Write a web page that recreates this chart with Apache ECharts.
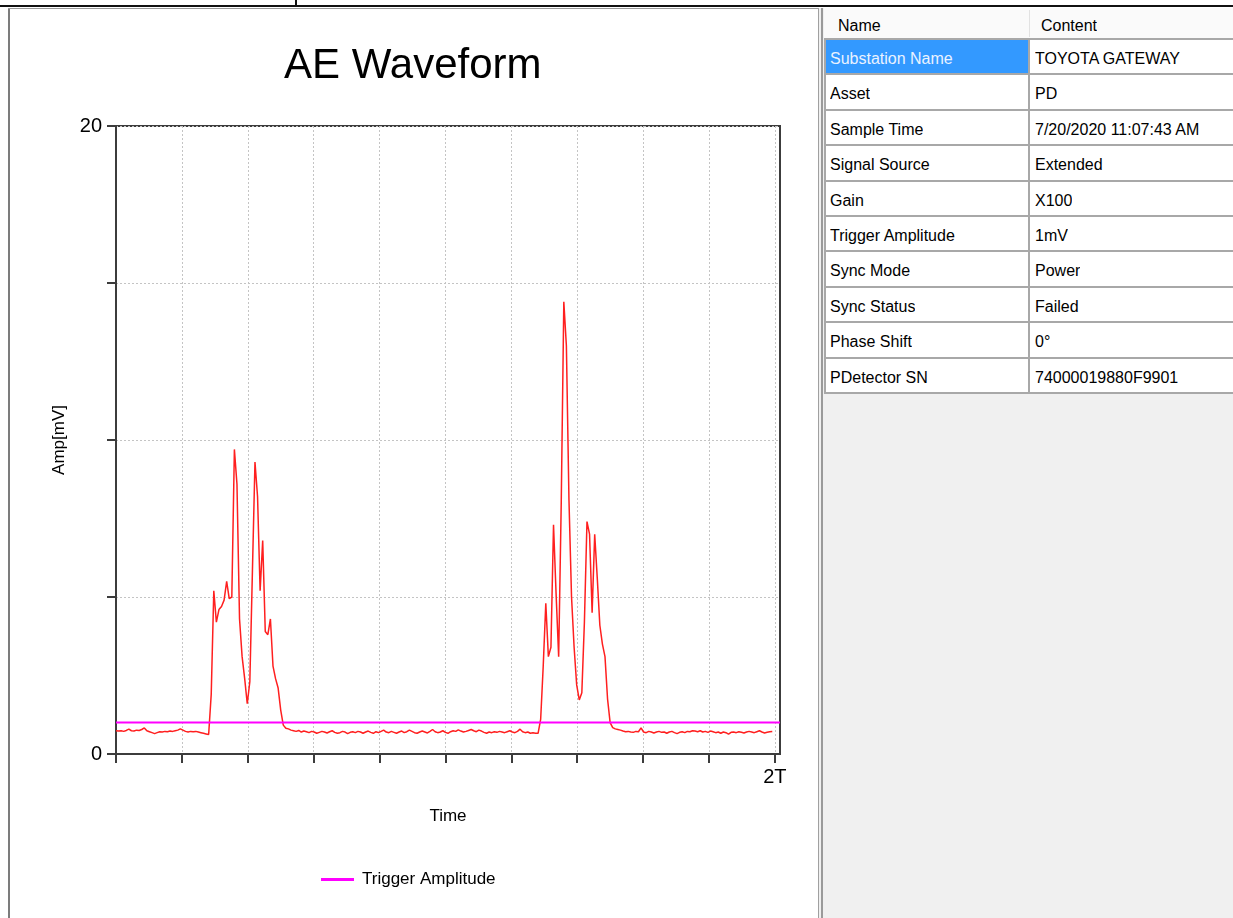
<!DOCTYPE html>
<html><head><meta charset="utf-8">
<script src="https://cdn.jsdelivr.net/npm/echarts@6/dist/echarts.min.js"></script>
<style>
html,body{margin:0;padding:0;width:1233px;height:918px;overflow:hidden;background:#fff;font-family:"Liberation Sans",Arial,sans-serif;}
.abs{position:absolute;}
#chart{position:absolute;left:0;top:0;width:818px;height:918px;}
#side{position:absolute;left:818px;top:8px;width:415px;height:910px;background:#f0f0f0;}
.cell{position:absolute;box-sizing:border-box;font-size:16px;color:#000;white-space:nowrap;overflow:hidden;display:flex;align-items:center;padding-top:4px;}
</style></head><body>
<div class="abs" style="left:0;top:5px;width:1233px;height:2px;background:#111"></div>
<div class="abs" style="left:295px;top:0;width:2px;height:6px;background:#111"></div>
<div class="abs" style="left:8px;top:8px;width:2px;height:910px;background:#7c7c7c"></div>
<div class="abs" style="left:8px;top:8px;width:812px;height:1px;background:#9a9a9a"></div>
<div id="chart"></div>
<div id="side"></div>
<script>
// ---- data ----
const chartTitle = 'AE Waveform';
const seriesNames = ['AE Signal', 'Trigger Amplitude'];
// 256 samples over two power cycles (2T), amplitude in mV
const ampValues = [
0.74,0.73,0.74,0.72,0.75,0.79,0.74,0.73,0.76,0.75,0.78,0.83,0.74,0.71,0.68,0.65,
0.68,0.71,0.70,0.72,0.71,0.73,0.72,0.74,0.76,0.80,0.76,0.72,0.70,0.72,0.71,0.72,
0.70,0.68,0.66,0.64,0.62,1.9,5.2,4.2,4.6,4.7,4.9,5.5,4.95,5.0,9.7,8.6,
4.3,3.1,2.4,1.6,2.3,5.8,9.3,8.2,5.2,6.8,3.9,3.8,4.3,2.8,2.4,2.1,
1.4,0.92,0.82,0.80,0.76,0.74,0.72,0.75,0.70,0.73,0.71,0.68,0.72,0.70,0.66,0.69,
0.72,0.70,0.67,0.71,0.74,0.69,0.66,0.68,0.72,0.70,0.65,0.69,0.71,0.68,0.72,0.70,
0.66,0.70,0.73,0.69,0.66,0.71,0.68,0.72,0.76,0.70,0.68,0.72,0.69,0.66,0.70,0.73,
0.68,0.71,0.76,0.72,0.68,0.66,0.70,0.73,0.70,0.67,0.72,0.78,0.71,0.68,0.70,0.74,
0.69,0.66,0.71,0.74,0.72,0.77,0.73,0.70,0.72,0.75,0.78,0.74,0.71,0.76,0.73,0.69,
0.66,0.70,0.68,0.71,0.69,0.72,0.70,0.68,0.71,0.74,0.70,0.68,0.72,0.79,0.71,0.68,
0.70,0.66,0.68,0.66,0.66,1.1,2.8,4.8,3.1,3.4,7.3,5.1,3.1,8.0,14.4,13.0,
8.1,5.0,3.4,2.2,1.72,1.95,4.2,7.4,7.0,4.5,7.0,5.6,4.1,3.5,3.1,1.75,
1.0,0.84,0.80,0.78,0.76,0.73,0.71,0.72,0.70,0.69,0.72,0.71,0.83,0.70,0.68,0.72,
0.70,0.67,0.70,0.72,0.69,0.70,0.66,0.70,0.72,0.68,0.65,0.69,0.71,0.68,0.72,0.71,
0.74,0.73,0.71,0.74,0.70,0.72,0.69,0.73,0.71,0.68,0.70,0.66,0.70,0.68,0.63,0.69,
0.70,0.68,0.71,0.69,0.67,0.70,0.72,0.70,0.68,0.71,0.74,0.70,0.67,0.69,0.71,0.72
];
const triggerX = [0, 258];
const triggerValues = [1, 1];
const xMin = 0, xMax = 258, xInterval = 25.6;
const xTickValues = [0, 25.6, 51.2, 76.8, 102.4, 128, 153.6, 179.2, 204.8, 230.4, 256];
const xLabelValues = [256];
const xLabelText = ['2T'];
const yMin = 0, yMax = 20, yInterval = 5;
const yLabelValues = [0, 20];
const xAxisName = 'Time';
const yAxisName = 'Amp[mV]';
const tableHeader = ['Name', 'Content'];
const tableNames = ['Substation Name','Asset','Sample Time','Signal Source','Gain','Trigger Amplitude','Sync Mode','Sync Status','Phase Shift','PDetector SN'];
const tableContents = ['TOYOTA GATEWAY','PD','7/20/2020 11:07:43 AM','Extended','X100','1mV','Power','Failed','0°','74000019880F9901'];

// ---- chart ----
const chart = echarts.init(document.getElementById('chart'), null, {renderer:'canvas'});
const axisColor = '#3c3c3c';
const gridColor = '#c4c4c4';
chart.setOption({
  animation: false,
  backgroundColor: 'transparent',
  textStyle: {fontFamily: 'Liberation Sans'},
  title: {text: chartTitle, left: 284, top: 45, padding: 0,
    textStyle: {fontSize: 42, fontWeight: 'normal', color: '#000', fontFamily: 'Liberation Sans'}},
  legend: {data: [{name: seriesNames[1], icon: 'rect'}], left: 321, top: 871, padding: 0,
    itemWidth: 33, itemHeight: 3, textStyle: {fontSize: 17, color: '#000', padding: [0,0,0,3]}},
  grid: {left: 116, top: 126, width: 664, height: 628, show: true, borderColor: axisColor, borderWidth: 2,
    containLabel: false, outerBoundsMode: 'none'},
  xAxis: {type: 'value', min: xMin, max: xMax, interval: xInterval,
    name: xAxisName, nameLocation: 'middle', nameGap: 54,
    nameTextStyle: {fontSize: 17, color: '#000'},
    axisLine: {show: true, onZero: false, lineStyle: {color: axisColor, width: 2}},
    axisTick: {show: true, length: 9, customValues: xTickValues, lineStyle: {color: axisColor, width: 2}},
    axisLabel: {customValues: xLabelValues, fontSize: 20, color: '#000', margin: 13,
      formatter: v => { const k = xLabelValues.indexOf(v); return k >= 0 ? xLabelText[k] : ''; }},
    splitLine: {show: true, lineStyle: {color: gridColor, width: 1, type: [2, 2]}}},
  yAxis: {type: 'value', min: yMin, max: yMax, interval: yInterval,
    name: yAxisName, nameLocation: 'middle', nameGap: 48,
    nameTextStyle: {fontSize: 17, color: '#000'},
    axisLine: {show: true, onZero: false, lineStyle: {color: axisColor, width: 2}},
    axisTick: {show: true, length: 9, lineStyle: {color: axisColor, width: 2}},
    axisLabel: {fontSize: 20, color: '#000', margin: 14,
      formatter: v => yLabelValues.includes(v) ? String(v) : ''},
    splitLine: {show: true, lineStyle: {color: gridColor, width: 1, type: [2, 2]}}},
  series: [
    {name: seriesNames[0], type: 'line', showSymbol: false, symbol: 'none',
      data: ampValues.map((v, i) => [i, v]),
      lineStyle: {color: '#ff1f1f', width: 1.5}, itemStyle: {color: '#ff1f1f'}},
    {name: seriesNames[1], type: 'line', showSymbol: false, symbol: 'none',
      data: triggerX.map((x, i) => [x, triggerValues[i]]),
      lineStyle: {color: '#ff00ff', width: 2}, itemStyle: {color: '#ff00ff'}}
  ]
});

// ---- side table ----
const side = document.getElementById('side');
function add(style, text, cls) {
  const d = document.createElement('div');
  d.className = cls || 'abs';
  Object.assign(d.style, style);
  if (text !== undefined) d.textContent = text;
  side.appendChild(d);
  return d;
}
// splitter lines (page x 818..822)
add({left:'0px', top:'0px', width:'1px', height:'910px', background:'#a0a0a0'});
add({left:'3px', top:'0px', width:'2px', height:'910px', background:'#9a9a9a'});
const tLeft = 6, col2 = 211, rowTop = 31, rowH = 35.4; // relative to side (page x 824, y 39)
// header
add({left: tLeft + 'px', top: '0px', width: (415 - tLeft) + 'px', height: rowTop + 'px', background: '#fafafa'});
add({left: (col2) + 'px', top: '2px', width: '1px', height: (rowTop - 4) + 'px', background: '#e2e2e2'});
add({left: (tLeft + 14) + 'px', top: '0px', height: rowTop + 'px'}, tableHeader[0], 'cell');
add({left: (col2 + 12) + 'px', top: '0px', height: rowTop + 'px'}, tableHeader[1], 'cell');
// body bg
const bodyH = Math.round(rowH * tableNames.length);
add({left: tLeft + 'px', top: rowTop + 'px', width: (415 - tLeft) + 'px', height: bodyH + 'px', background: '#fff'});
tableNames.forEach((name, k) => {
  const top = Math.round(rowTop + k * rowH);
  const bot = Math.round(rowTop + (k + 1) * rowH);
  if (k === 0) add({left: (tLeft + 1) + 'px', top: (top + 1) + 'px', width: (col2 - tLeft - 1) + 'px', height: (bot - top - 1) + 'px', background: '#3399ff'});
  const c1 = add({left: (tLeft + 6) + 'px', top: top + 'px', height: (bot - top) + 'px'}, name, 'cell');
  if (k === 0) c1.style.color = '#eaf2ff';
  add({left: (col2 + 6) + 'px', top: top + 'px', height: (bot - top) + 'px'}, tableContents[k], 'cell');
});
// grid lines
for (let k = 0; k <= tableNames.length; k++) {
  const y = Math.round(rowTop + k * rowH);
  add({left: tLeft + 'px', top: (y - 1) + 'px', width: (415 - tLeft) + 'px', height: '2px', background: '#a8a8a8'});
}
add({left: tLeft + 'px', top: rowTop + 'px', width: '2px', height: bodyH + 'px', background: '#a8a8a8'});
add({left: (col2 - 1) + 'px', top: rowTop + 'px', width: '2px', height: bodyH + 'px', background: '#a8a8a8'});
</script>
</body></html>
